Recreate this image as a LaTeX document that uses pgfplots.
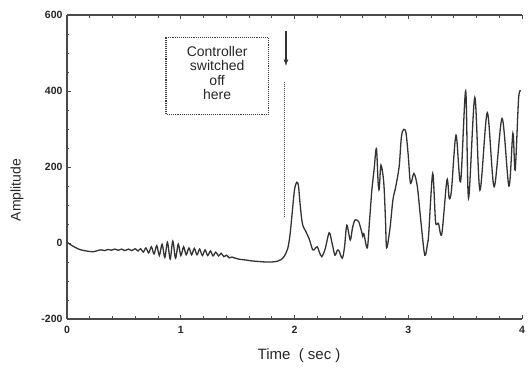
\documentclass[border=0pt]{standalone}
\usepackage{pgfplots}
\pgfplotsset{compat=1.18}
\usepackage{fontspec}
\setmainfont{Liberation Sans}
\definecolor{ink}{HTML}{333333}
\definecolor{axisgray}{HTML}{4A4A4A}
\begin{document}
\begin{tikzpicture}
\begin{axis}[
  scale only axis,
  width=455pt, height=304pt,
  at={(0,0)}, anchor=south west,
  xmin=0, xmax=4, ymin=-200, ymax=600,
  axis x line*=box, axis y line*=left,
  xtick={0,1,2,3,4}, ytick={-200,0,200,400,600},
  minor x tick num=4, minor y tick num=3,
  tick align=inside,
  major tick length=4pt, minor tick length=2.5pt,
  axis line style={axisgray, line width=1.1pt, -},
  every tick/.style={axisgray, line width=0.8pt},
  /pgf/number format/assume math mode=true,
  ticklabel style={font=\bfseries\fontsize{10.5}{11}\selectfont, text=black!85},
  xticklabel style={yshift=-4pt},
  yticklabel style={xshift=-1pt},
  clip=false,
]
\addplot[ink, line width=1.3pt, smooth, tension=0.5] coordinates {
(0.000,2) (0.05,-8) (0.11,-17) (0.17,-21) (0.23,-23) (0.28,-19)
(0.30,-18) (0.33,-20) (0.36,-17) (0.39,-19) (0.42,-16) (0.45,-19)
(0.48,-16) (0.51,-20) (0.54,-16) (0.57,-20)
(0.600,-15) (0.624,-21) (0.647,-15) (0.671,-24) (0.694,-13) (0.718,-26)
(0.742,-10) (0.765,-29) (0.789,-7) (0.812,-33) (0.836,-3) (0.860,-38)
(0.883,2) (0.907,-42) (0.930,5) (0.954,-40) (0.978,-3) (1.001,-33)
(1.025,-10) (1.048,-31) (1.072,-13) (1.096,-31) (1.119,-14) (1.143,-31)
(1.166,-16) (1.190,-33) (1.214,-18) (1.237,-33) (1.261,-21) (1.284,-34)
(1.308,-24) (1.332,-34) (1.355,-27) (1.379,-36) (1.402,-32) (1.426,-39)
(1.450,-37) (1.48,-40) (1.52,-43) (1.55,-44) (1.58,-45) (1.62,-47)
(1.66,-48) (1.70,-49) (1.75,-50) (1.80,-50) (1.85,-48) (1.88,-44)
(1.91,-35) (1.94,-15) (1.96,20) (1.98,80) (2.00,140) (2.02,160)
(2.035,150) (2.05,100) (2.07,50) (2.10,30) (2.13,10) (2.16,-18)
(2.18,-15) (2.20,-10) (2.22,-25) (2.24,-36) (2.27,-15) (2.305,27)
(2.33,0) (2.355,-32) (2.375,-20) (2.39,-20) (2.42,-40) (2.44,-10)
(2.46,47) (2.49,8) (2.51,40) (2.53,60) (2.55,60) (2.565,56)
(2.59,30) (2.60,18) (2.61,24) (2.64,-13) (2.66,60) (2.68,139)
(2.70,194) (2.72,249) (2.735,160) (2.745,142) (2.76,205) (2.785,158)
(2.80,60) (2.81,-13) (2.84,40) (2.865,113) (2.89,148) (2.92,201)
(2.94,280) (2.96,299) (2.98,290) (3.00,230) (3.02,157) (3.05,183)
(3.08,148) (3.11,60) (3.145,-32) (3.17,0) (3.18,25) (3.215,183)
(3.24,56) (3.265,52) (3.295,24) (3.34,166) (3.36,118) (3.38,139)
(3.42,284) (3.46,161) (3.505,400) (3.53,118) (3.585,383) (3.63,139)
(3.695,343) (3.755,148) (3.825,328) (3.885,150) (3.92,289) (3.94,192)
(3.97,380) (3.99,400)
};
% annotation box
\draw[black!75, densely dotted, line width=1.1pt] (axis cs:0.87,541) rectangle (axis cs:1.77,339);
\node[align=center, font=\fontsize{14}{14.5}\selectfont, text=black!85] at (axis cs:1.32,448)
  {Controller\\switched\\off\\here};
\draw[black!70, densely dotted, line width=1pt] (axis cs:1.91,425) -- (axis cs:1.91,69);
\draw[black!80, line width=1.2pt, -{latex}] (axis cs:1.925,558) -- (axis cs:1.925,466);
% axis labels
\node[rotate=90, font=\fontsize{14}{15}\selectfont, text=black!85] at (axis cs:-0.44,139) {Amplitude};
\node[font=\fontsize{15}{16}\selectfont, text=black!85] at (axis cs:2.04,-297) {Time\ \ ( sec )};
\end{axis}
\pgfresetboundingbox
\useasboundingbox (-67pt,-50pt) rectangle (461pt,319pt);
\end{tikzpicture}
\end{document}
